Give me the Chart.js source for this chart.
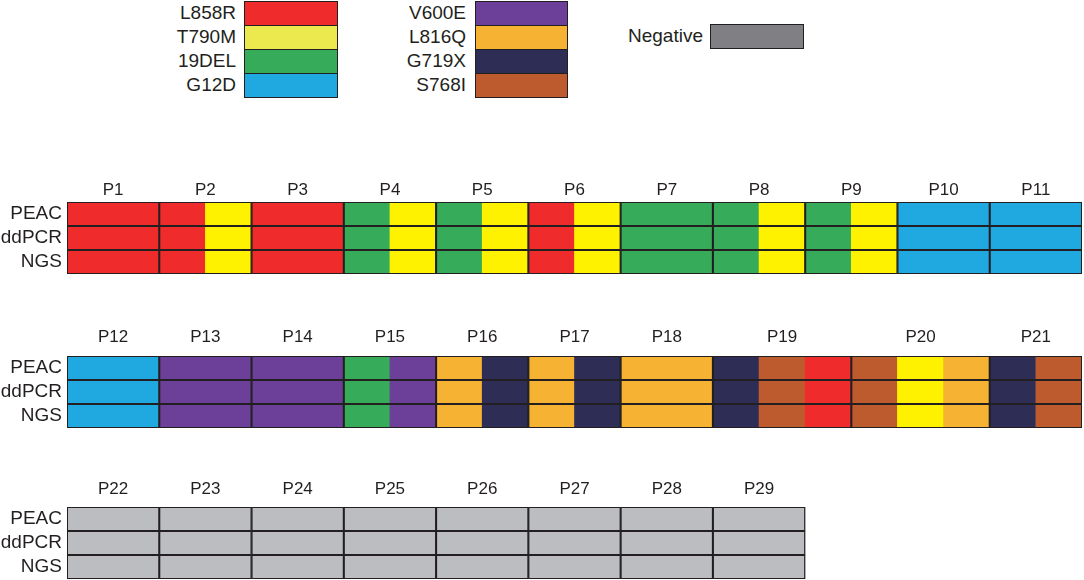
<!DOCTYPE html>
<html lang="en">
<head>
    <meta charset="UTF-8">
    <title>Mutation detection by PEAC, ddPCR and NGS</title>
    <script src="https://cdn.jsdelivr.net/npm/chart.js"></script>
    <style>
        body {
            margin: 0;
            background: #fff;
            font-family: "Liberation Sans", Arial, sans-serif;
            width: 1084px;
            height: 580px;
            position: relative;
            overflow: hidden;
        }

        .panel {
            position: absolute;
            left: 0;
        }

        /* legend */
        .key-label {
            position: absolute;
            font-size: 19px;
            color: #231f20;
            text-align: right;
            width: 120px;
            line-height: 24px;
        }

        .key-swatch {
            position: absolute;
            box-sizing: border-box;
            border: 1px solid #231f20;
        }
    </style>
</head>
<body>
    <div id="legend"></div>

    <canvas id="panel1" class="panel" width="1084" height="110" style="top:166px"></canvas>
    <canvas id="panel2" class="panel" width="1084" height="110" style="top:320px"></canvas>
    <canvas id="panel3" class="panel" width="1084" height="110" style="top:470px"></canvas>

    <script>
        // Detection methods (rows)
        const methods = ['PEAC', 'ddPCR', 'NGS'];

        // Legend entries, in two columns plus the negative key
        const legendCol1 = ['L858R', 'T790M', '19DEL', 'G12D'];
        const legendCol2 = ['V600E', 'L816Q', 'G719X', 'S768I'];
        const legendNeg = ['Negative'];

        // Patients and mutations found (same result for all three methods)
        const patients1 = ['P1', 'P2', 'P3', 'P4', 'P5', 'P6', 'P7', 'P8', 'P9', 'P10', 'P11'];
        const mutations1 = [
            ['L858R'], ['L858R', 'T790M'], ['L858R'], ['19DEL', 'T790M'], ['19DEL', 'T790M'],
            ['L858R', 'T790M'], ['19DEL'], ['19DEL', 'T790M'], ['19DEL', 'T790M'], ['G12D'], ['G12D']
        ];

        const patients2 = ['P12', 'P13', 'P14', 'P15', 'P16', 'P17', 'P18', 'P19', 'P20', 'P21'];
        const mutations2 = [
            ['G12D'], ['V600E'], ['V600E'], ['19DEL', 'V600E'], ['L816Q', 'G719X'],
            ['L816Q', 'G719X'], ['L816Q'], ['G719X', 'S768I', 'L858R'], ['S768I', 'T790M', 'L816Q'], ['G719X', 'S768I']
        ];

        const patients3 = ['P22', 'P23', 'P24', 'P25', 'P26', 'P27', 'P28', 'P29'];
        const mutations3 = [
            ['Negative'], ['Negative'], ['Negative'], ['Negative'],
            ['Negative'], ['Negative'], ['Negative'], ['Negative']
        ];

        // colours used in the grid
        const cellColors = {
            'L858R': '#ef2b2c',
            'T790M': '#fff200',
            '19DEL': '#36ab5a',
            'G12D': '#20a8e0',
            'V600E': '#6c3f98',
            'L816Q': '#f5b233',
            'G719X': '#2e2d55',
            'S768I': '#bd5b2f',
            'Negative': '#bcbdc0'
        };

        // colours used in the legend (slightly different in the figure)
        const keyColors = Object.assign({}, cellColors, {
            'T790M': '#ece94f',
            'Negative': '#808084'
        });

        const fontSpec = { family: '"Liberation Sans", Arial, sans-serif', size: 19 };
        const headFont = { family: '"Liberation Sans", Arial, sans-serif', size: 17 };
        const ink = '#231f20';

        // ---- legend ----
        const legend = document.getElementById('legend');
        function addKey(name, labelRight, swLeft, swWidth, top) {
            const lab = document.createElement('div');
            lab.className = 'key-label';
            lab.textContent = name;
            lab.style.left = (labelRight - 120) + 'px';
            lab.style.top = top + 'px';
            legend.appendChild(lab);

            const sw = document.createElement('div');
            sw.className = 'key-swatch';
            sw.style.left = swLeft + 'px';
            sw.style.top = top + 'px';
            sw.style.width = swWidth + 'px';
            sw.style.height = '25px';
            sw.style.background = keyColors[name];
            legend.appendChild(sw);
        }
        legendCol1.forEach((n, i) => addKey(n, 236, 244, 94, 1 + i * 24));
        legendCol2.forEach((n, i) => addKey(n, 466, 475, 93, 1 + i * 24));
        legendNeg.forEach((n, i) => addKey(n, 703, 710, 94, 24 + i * 24));

        // ---- grid panels ----
        // Each patient takes at least two half-cells; results split it evenly.
        function buildPanel(patients, mutations) {
            const cells = [], boxes = [], centers = [];
            let x = 0;
            patients.forEach((p, i) => {
                const muts = mutations[i];
                const w = Math.max(2, muts.length);
                methods.forEach(m => {
                    boxes.push({ y: m, x: [x, x + w] });
                    muts.forEach((g, k) => {
                        cells.push({ y: m, x: [x + k * w / muts.length, x + (k + 1) * w / muts.length], g: g });
                    });
                });
                centers.push(x + w / 2);
                x += w;
            });
            return { cells, boxes, centers };
        }

        function createPanel(id, patients, mutations, axisHeight, labelPad, bottomPad) {
            const p = buildPanel(patients, mutations);
            return new Chart(document.getElementById(id).getContext('2d'), {
                type: 'bar',
                data: {
                    labels: methods,
                    datasets: [
                        {
                            label: 'patients',
                            data: p.boxes,
                            backgroundColor: 'rgba(0,0,0,0)',
                            borderColor: ink,
                            borderWidth: 0.7,
                            borderSkipped: false,
                            grouped: false,
                            order: 0
                        },
                        {
                            label: 'results',
                            data: p.cells,
                            backgroundColor: ctx => cellColors[ctx.raw.g],
                            borderWidth: 0,
                            grouped: false,
                            order: 1
                        }
                    ]
                },
                options: {
                    indexAxis: 'y',
                    responsive: false,
                    animation: false,
                    barPercentage: 1,
                    categoryPercentage: 1,
                    layout: { padding: { left: 0, right: 2, top: 0, bottom: bottomPad } },
                    plugins: {
                        legend: { display: false },
                        tooltip: { enabled: false }
                    },
                    scales: {
                        x: {
                            type: 'linear',
                            position: 'top',
                            min: 0,
                            max: 22,
                            grid: { display: false, drawTicks: false },
                            border: { display: false },
                            ticks: {
                                autoSkip: false,
                                maxRotation: 0,
                                padding: labelPad,
                                color: ink,
                                font: headFont,
                                callback: (v, i) => patients[i]
                            },
                            afterBuildTicks: scale => {
                                scale.ticks = p.centers.map(v => ({ value: v }));
                            },
                            afterFit: scale => {
                                scale.height = axisHeight;
                                scale.paddingLeft = 0;
                                scale.paddingRight = 0;
                            }
                        },
                        y: {
                            type: 'category',
                            grid: { display: false, drawTicks: false },
                            border: { display: false },
                            ticks: { autoSkip: false, padding: 5, color: ink, font: fontSpec },
                            afterFit: scale => {
                                scale.width = 67;
                                scale.paddingTop = 0;
                                scale.paddingBottom = 0;
                            }
                        }
                    }
                }
            });
        }

        createPanel('panel1', patients1, mutations1, 36, 1, 2);
        createPanel('panel2', patients2, mutations2, 36, 8, 2);
        createPanel('panel3', patients3, mutations3, 37, 7, 1);
    </script>
</body>
</html>
